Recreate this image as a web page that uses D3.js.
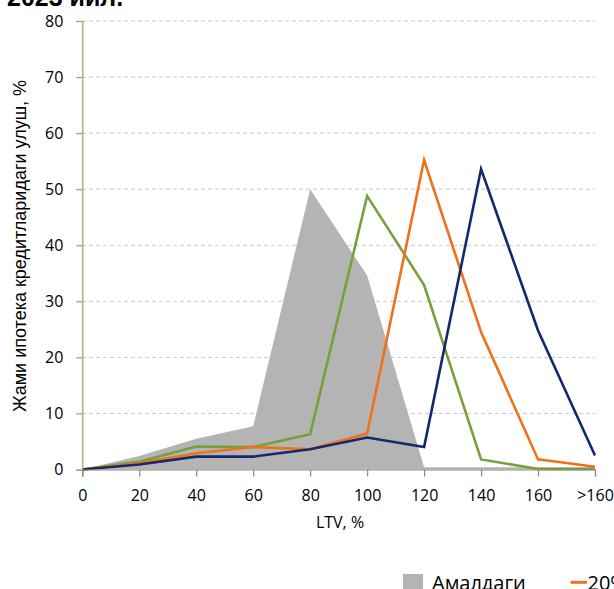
<!DOCTYPE html>
<html><head><meta charset="utf-8">
<script src="https://cdn.jsdelivr.net/npm/d3@7"></script>
<style>
body{margin:0;background:#fff;}
svg{display:block;}
</style></head>
<body>
<svg id="c" width="614" height="589"></svg>
<script>
const categories = ["0","20","40","60","80","100","120","140","160",">160"];
const actual = [0, 2.4, 5.5, 7.7, 50, 34.6, 0.4, 0.4, 0.4, 0.4];
const seriesGreen = [0, 1.4, 4.1, 4.0, 6.3, 48.8, 32.9, 1.8, 0.1, 0.1];
const seriesOrange = [0, 1.1, 2.9, 4.0, 3.6, 6.4, 55.2, 24.5, 1.8, 0.5];
const seriesNavy = [0, 0.9, 2.3, 2.3, 3.6, 5.7, 4.0, 53.6, 24.8, 2.5];
const yTicks = [0,10,20,30,40,50,60,70,80];
const legendLabels = ["Амалдаги", "20%"];

const svg = d3.select("#c");
const x = d3.scalePoint().domain(categories).range([82.3, 595]);
const y = d3.scaleLinear().domain([0,80]).range([469.5, 21]);

// title (cut off at top)
svg.append("text").attr("x",7).attr("y",5.5)
  .attr("font-family","Liberation Sans, Arial, sans-serif").attr("font-weight","bold")
  .attr("font-size",25).attr("fill","#000").text("2023 йил.");

// grid
svg.append("g").selectAll("line").data(yTicks.filter(d=>d>0)).join("line")
  .attr("x1",82).attr("x2",595).attr("y1",d=>y(d)).attr("y2",d=>y(d))
  .attr("stroke","#c8c8c8").attr("stroke-width",1).attr("stroke-dasharray","4,3");

// area
const area = d3.area().x((d,i)=>x(categories[i])).y0(y(0)).y1(d=>y(d));
svg.append("path").datum(actual).attr("d",area).attr("fill","#b4b4b4");

// lines
const line = d3.line().x((d,i)=>x(categories[i])).y(d=>y(d));
[[seriesGreen,"#77a03c"],[seriesOrange,"#ef7119"],[seriesNavy,"#13296b"]].forEach(([s,c])=>{
  svg.append("path").datum(s).attr("d",line).attr("fill","none")
    .attr("stroke",c).attr("stroke-width",2.6).attr("stroke-linejoin","miter");
});

// y axis
const yAxis = svg.append("g").attr("transform","translate(82.3,0)")
  .call(d3.axisLeft(y).tickValues(yTicks).tickSize(6).tickPadding(13));
yAxis.select(".domain").attr("stroke","#a89a62").attr("stroke-width",1.2);
yAxis.selectAll(".tick line").attr("stroke","#a89a62").attr("stroke-width",1.2);
yAxis.selectAll("text").attr("font-family","Open Sans, sans-serif").attr("font-size",16).attr("fill","#000");

// x axis
const xAxis = svg.append("g").attr("transform",`translate(0,${y(0)})`)
  .call(d3.axisBottom(x).tickSize(7).tickPadding(13));
xAxis.select(".domain").attr("stroke","#8c8a78").attr("stroke-width",1.2);
xAxis.selectAll(".tick line").attr("stroke","#8c8a78").attr("stroke-width",1.2);
xAxis.selectAll("text").attr("font-family","Open Sans, sans-serif").attr("font-size",16).attr("fill","#000");

// axis titles
svg.append("text").attr("x",340).attr("y",528).attr("text-anchor","middle")
  .attr("font-family","Open Sans, sans-serif").attr("font-size",16).attr("fill","#000").text("LTV, %");
svg.append("text").attr("transform","translate(26,246) rotate(-90)").attr("text-anchor","middle")
  .attr("font-family","Liberation Sans, Arial, sans-serif").attr("font-size",18).attr("fill","#000")
  .text("Жами ипотека кредитларидаги улуш, %");

// legend
svg.append("rect").attr("x",403).attr("y",574).attr("width",20).attr("height",20).attr("fill","#b4b4b4");
svg.append("text").attr("x",432).attr("y",590).attr("font-family","Open Sans, sans-serif").attr("font-size",20).attr("fill","#000").text(legendLabels[0]);
svg.append("line").attr("x1",570.5).attr("x2",587).attr("y1",582.3).attr("y2",582.3).attr("stroke","#ef7119").attr("stroke-width",3);
svg.append("text").attr("x",587.5).attr("y",590).attr("font-family","Open Sans, sans-serif").attr("font-size",20).attr("fill","#000").text(legendLabels[1]);
</script>
</body></html>
